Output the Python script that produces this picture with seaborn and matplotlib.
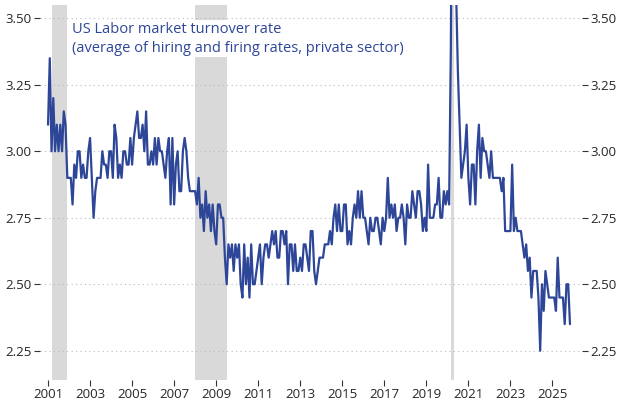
import numpy as np
import pandas as pd
import matplotlib
matplotlib.use("Agg")
import matplotlib.pyplot as plt
import seaborn as sns

# monthly turnover rate, Jan 2001 onwards
rates = {
    2001: [3.10, 3.35, 3.00, 3.20, 3.00, 3.10, 3.00, 3.10, 3.00, 3.15, 3.10, 2.90],
    2002: [2.90, 2.90, 2.80, 2.95, 2.90, 3.00, 3.00, 2.90, 2.95, 2.90, 2.90, 3.00],
    2003: [3.05, 2.90, 2.75, 2.85, 2.90, 2.90, 2.90, 3.00, 2.95, 2.95, 2.90, 3.00],
    2004: [3.00, 2.90, 3.10, 3.05, 2.90, 2.95, 2.90, 3.00, 3.00, 2.95, 2.95, 3.05],
    2005: [2.95, 3.05, 3.10, 3.15, 3.05, 3.05, 3.10, 3.00, 3.15, 2.95, 2.95, 3.00],
    2006: [2.95, 3.05, 2.95, 3.05, 3.00, 3.00, 2.95, 2.90, 3.00, 3.05, 2.80, 3.05],
    2007: [2.80, 2.95, 3.00, 2.85, 2.85, 3.00, 3.05, 3.00, 2.90, 2.85, 2.85, 2.85],
    2008: [2.85, 2.80, 2.90, 2.75, 2.80, 2.70, 2.85, 2.75, 2.80, 2.70, 2.80, 2.70],
    2009: [2.65, 2.80, 2.80, 2.75, 2.75, 2.60, 2.50, 2.65, 2.60, 2.65, 2.55, 2.65],
    2010: [2.60, 2.65, 2.50, 2.45, 2.65, 2.50, 2.60, 2.45, 2.65, 2.50, 2.50, 2.55],
    2011: [2.60, 2.65, 2.50, 2.60, 2.65, 2.65, 2.60, 2.65, 2.70, 2.65, 2.70, 2.60],
    2012: [2.60, 2.70, 2.70, 2.65, 2.70, 2.50, 2.65, 2.65, 2.55, 2.65, 2.55, 2.55],
    2013: [2.60, 2.55, 2.65, 2.65, 2.60, 2.55, 2.70, 2.70, 2.55, 2.50, 2.55, 2.60],
    2014: [2.60, 2.60, 2.65, 2.65, 2.65, 2.70, 2.65, 2.75, 2.80, 2.70, 2.80, 2.70],
    2015: [2.70, 2.80, 2.80, 2.65, 2.70, 2.65, 2.75, 2.80, 2.75, 2.85, 2.75, 2.85],
    2016: [2.75, 2.75, 2.70, 2.65, 2.75, 2.70, 2.70, 2.75, 2.75, 2.70, 2.65, 2.75],
    2017: [2.70, 2.75, 2.90, 2.75, 2.80, 2.75, 2.80, 2.70, 2.75, 2.75, 2.80, 2.75],
    2018: [2.65, 2.80, 2.75, 2.75, 2.85, 2.80, 2.75, 2.85, 2.85, 2.80, 2.70, 2.75],
    2019: [2.70, 2.95, 2.75, 2.75, 2.75, 2.80, 2.80, 2.90, 2.75, 2.75, 2.85, 2.80],
    2020: [2.85, 2.80, 3.40, 4.60, 4.00, 3.60, 3.30, 3.10, 2.90, 2.95, 3.00, 3.10],
    2021: [2.90, 2.80, 2.95, 2.95, 2.80, 3.00, 3.10, 2.90, 3.05, 3.00, 3.00, 2.95],
    2022: [2.90, 3.00, 2.90, 2.90, 2.90, 2.90, 2.90, 2.85, 2.90, 2.70, 2.70, 2.70],
    2023: [2.70, 2.95, 2.70, 2.75, 2.70, 2.70, 2.70, 2.65, 2.60, 2.65, 2.55, 2.60],
    2024: [2.45, 2.55, 2.55, 2.55, 2.45, 2.25, 2.50, 2.40, 2.55, 2.50, 2.45, 2.45],
    2025: [2.45, 2.45, 2.40, 2.60, 2.45, 2.45, 2.45, 2.35, 2.50, 2.50, 2.35],
}

recessions = [(2001.2, 2001.9), (2008.0, 2009.5), (2020.15, 2020.32)]

rows = []
for yr, vals in rates.items():
    for m, v in enumerate(vals):
        rows.append((yr + m / 12, v))
df = pd.DataFrame(rows, columns=["date", "rate"])

sns.set_style("white")
plt.rcParams["font.family"] = ["Open Sans", "DejaVu Sans"]
fig, ax = plt.subplots(figsize=(6.25, 4.0), dpi=100)

for a, b in recessions:
    ax.axvspan(a, b, color="#d9d9d9", lw=0, zorder=0)

sns.lineplot(data=df, x="date", y="rate", color="#2e4698", lw=1.6, ax=ax, zorder=3)

ax.set_ylim(2.14, 3.55)
ax.set_xlim(2000.6, 2026.4)
ax.set_yticks([2.25, 2.50, 2.75, 3.00, 3.25, 3.50])
ax.set_yticklabels([f"{t:.2f}" for t in [2.25, 2.50, 2.75, 3.00, 3.25, 3.50]])
ax.set_xticks(range(2001, 2026, 2))
ax.yaxis.grid(True, linestyle=(0, (1, 3)), color="#bbbbbb", lw=0.8)
ax.set_xlabel("")
ax.set_ylabel("")
for s in ax.spines.values():
    s.set_visible(False)
ax.tick_params(axis="y", left=True, right=True, labelleft=True, labelright=True,
               length=4, color="#333333", labelsize=9.5, pad=2)
ax.tick_params(axis="x", bottom=True, length=4, color="#333333", labelsize=9.5, pad=2)

ax.text(0.06, 0.955, "US Labor market turnover rate\n(average of hiring and firing rates, private sector)",
        transform=ax.transAxes, color="#2e4698", fontsize=10.5, va="top", linespacing=1.35,
        bbox=dict(facecolor="white", edgecolor="none", pad=1))

fig.subplots_adjust(left=0.0634, right=0.931, top=0.9875, bottom=0.05)
fig.savefig("out.png")
